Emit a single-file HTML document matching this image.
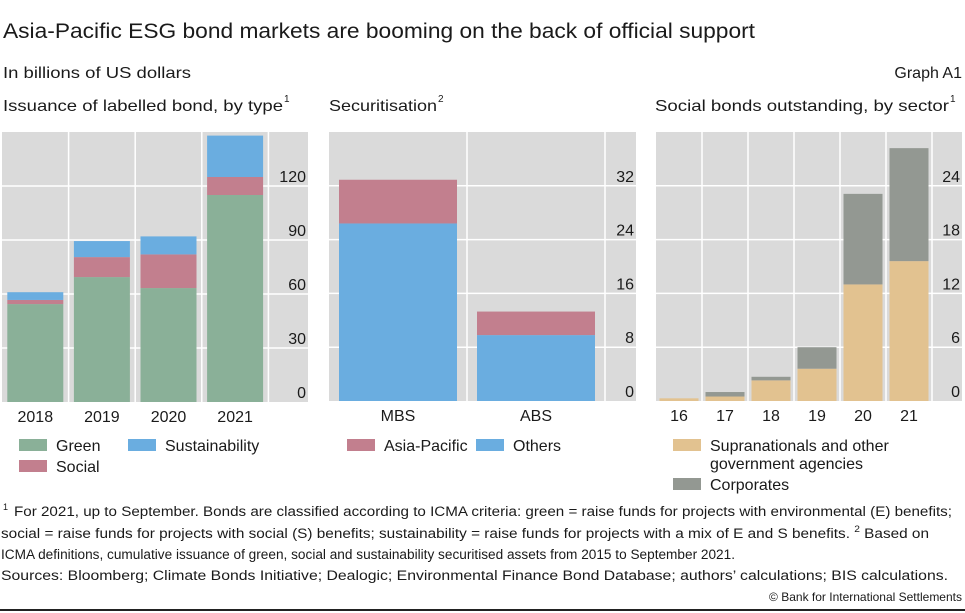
<!DOCTYPE html>
<html><head><meta charset="utf-8">
<style>
html,body{margin:0;padding:0;background:#fff;}
svg{display:block;font-family:"Liberation Sans",sans-serif;}
text{fill:#1a1a1a;}
</style></head>
<body>
<svg id="c" width="965" height="613" viewBox="0 0 965 613" xmlns="http://www.w3.org/2000/svg">
<text x="3" y="38" font-size="21" textLength="752" lengthAdjust="spacingAndGlyphs">Asia-Pacific ESG bond markets are booming on the back of official support</text>
<text x="3" y="78" font-size="16" textLength="188" lengthAdjust="spacingAndGlyphs">In billions of US dollars</text>
<text x="962" y="78" font-size="16" text-anchor="end">Graph A1</text>
<text x="3" y="111" font-size="16" textLength="280" lengthAdjust="spacingAndGlyphs">Issuance of labelled bond, by type</text>
<text x="284" y="102" font-size="10">1</text>
<text x="329" y="111" font-size="16" textLength="108" lengthAdjust="spacingAndGlyphs">Securitisation</text>
<text x="438" y="102" font-size="10">2</text>
<text x="655" y="111" font-size="16" textLength="294" lengthAdjust="spacingAndGlyphs">Social bonds outstanding, by sector</text>
<text x="950" y="102" font-size="10">1</text>
<g id="p1"></g>
<g id="p2"></g>
<g id="p3"></g>
<g font-size="16">
<rect x="19" y="439" width="28" height="12" fill="#8ab098"/>
<text x="56" y="451">Green</text>
<rect x="128" y="439" width="28" height="12" fill="#6aade0"/>
<text x="165" y="451">Sustainability</text>
<rect x="19" y="460" width="28" height="12" fill="#c27f8e"/>
<text x="56" y="472">Social</text>
<rect x="347" y="439" width="28" height="12" fill="#c27f8e"/>
<text x="384" y="451">Asia-Pacific</text>
<rect x="476" y="439" width="28" height="12" fill="#6aade0"/>
<text x="513" y="451">Others</text>
<rect x="673" y="439" width="28" height="12" fill="#e2c290"/>
<text x="710" y="451">Supranationals and other</text>
<text x="710" y="469">government agencies</text>
<rect x="673" y="478" width="28" height="12" fill="#939892"/>
<text x="710" y="490">Corporates</text>
</g>
<g font-size="13.5">
<text x="3" y="510" font-size="9">1</text>
<text x="14" y="516" textLength="938" lengthAdjust="spacingAndGlyphs">For 2021, up to September. Bonds are classified according to ICMA criteria: green = raise funds for projects with environmental (E) benefits;</text>
<text x="1" y="538" textLength="928" lengthAdjust="spacingAndGlyphs">social = raise funds for projects with social (S) benefits; sustainability = raise funds for projects with a mix of E and S benefits.    <tspan font-size="9" dy="-6">2</tspan><tspan dy="6">  Based on</tspan></text>
<text x="1" y="559" textLength="734" lengthAdjust="spacingAndGlyphs">ICMA definitions, cumulative issuance of green, social and sustainability securitised assets from 2015 to September 2021.</text>
<text x="1" y="580" textLength="947" lengthAdjust="spacingAndGlyphs">Sources: Bloomberg; Climate Bonds Initiative; Dealogic; Environmental Finance Bond Database; authors’ calculations; BIS calculations.</text>
<text x="962" y="601" font-size="12" text-anchor="end" textLength="440" lengthAdjust="spacingAndGlyphs" fill="#1a1a1a" style="display:none">x</text>
<text x="962" y="601" font-size="12" text-anchor="end">© Bank for International Settlements</text>
</g>
<rect x="0" y="609" width="965" height="2" fill="#222"/>
</svg>
<script>
// Panel 1: Issuance of labelled bond
const p1Categories = ['2018','2019','2020','2021'];
const p1Green = [54.4, 69.4, 63.3, 115];
const p1Social = [2.3, 11.1, 18.7, 10];
const p1Sustain = [4.3, 8.9, 10, 23];
const p1Ticks = [0, 30, 60, 90, 120];
// Panel 2: Securitisation
const p2Categories = ['MBS','ABS'];
const p2Others = [26.4, 9.8];
const p2AsiaPacific = [6.5, 3.5];
const p2Ticks = [0, 8, 16, 24, 32];
// Panel 3: Social bonds outstanding
const p3Categories = ['16','17','18','19','20','21'];
const p3Supra = [0.3, 0.5, 2.3, 3.6, 13.0, 15.6];
const p3Corp = [0, 0.5, 0.4, 2.4, 10.1, 12.6];
const p3Ticks = [0, 6, 12, 18, 24];

const NS = 'http://www.w3.org/2000/svg';
function mk(parent, tag, attrs){const e=document.createElementNS(NS,tag);for(const k in attrs)e.setAttribute(k,attrs[k]);parent.appendChild(e);return e;}

function panel(g, cfg){
  const {left,right,top,bottom,max,cats,series,ticks,slotW,barW,labelX} = cfg;
  const y = v => bottom - v/max*(bottom-top);
  const x0 = i => left + i*slotW;
  const bg = mk(g,'rect',{x:left,y:top,width:right-left,height:bottom-top,fill:'#dadada'});
  
  
  ticks.forEach(t=>{
    if(t>0){
      const l = mk(g,'line',{x1:left,x2:right,y1:y(t),y2:y(t),stroke:'#fff','stroke-width':1.5});
      
      
    }
    const tx = mk(g,'text',{x:labelX,y:y(t)-4,'font-size':16,'text-anchor':'end'});
    tx.textContent = t;
    
    
  });
  for(let i=1;i<=cats.length;i++){
    const l = mk(g,'line',{x1:x0(i),x2:x0(i),y1:top,y2:bottom,stroke:'#fff','stroke-width':1.5});
    
    
  }
  cats.forEach((c,i)=>{
    const cx = x0(i)+slotW/2;
    let acc = 0;
    series.forEach(s=>{
      const v = s.vals[i];
      if(v>0){
        const r = mk(g,'rect',{x:cx-barW/2,y:y(acc+v),width:barW,height:y(acc)-y(acc+v),fill:s.color});
        
        
      }
      acc += v;
    });
    const t = mk(g,'text',{x:cx,y:bottom+20,'font-size':16,'text-anchor':'middle'});
    t.textContent = c;
    
    
  });
}
panel(document.getElementById('p1'),{left:2,right:308,top:132,bottom:402,max:150,cats:p1Categories,slotW:66.6,barW:56,labelX:306,ticks:p1Ticks,
  series:[{name:'green',vals:p1Green,color:'#8ab098'},{name:'social',vals:p1Social,color:'#c27f8e'},{name:'sustainability',vals:p1Sustain,color:'#6aade0'}]});
panel(document.getElementById('p2'),{left:329,right:636,top:132,bottom:401,max:40,cats:p2Categories,slotW:138,barW:118,labelX:634,ticks:p2Ticks,
  series:[{name:'others',vals:p2Others,color:'#6aade0'},{name:'asia-pacific',vals:p2AsiaPacific,color:'#c27f8e'}]});
panel(document.getElementById('p3'),{left:656,right:962,top:132,bottom:401,max:30,cats:p3Categories,slotW:46,barW:39,labelX:960,ticks:p3Ticks,
  series:[{name:'supranationals',vals:p3Supra,color:'#e2c290'},{name:'corporates',vals:p3Corp,color:'#939892'}]});
</script>
</body></html>
